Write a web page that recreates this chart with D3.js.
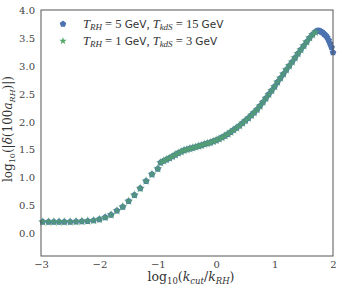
<!DOCTYPE html>
<html>
<head>
<meta charset="utf-8">
<script src="https://cdn.jsdelivr.net/npm/d3@7"></script>
<style>
  html, body { margin: 0; padding: 0; background: #fff; }
  svg { display: block; }
  .tick text { font-family: "DejaVu Serif", "Liberation Serif", serif; font-size: 10px; fill: #444; }
</style>
</head>
<body>
<div id="chart"></div>
<script>
// Sparse points (both runs overlap here)
var sparseK = [-2.97, -2.87, -2.78, -2.69, -2.6, -2.5, -2.4, -2.3, -2.2, -2.1, -2.0,
               -1.9, -1.8, -1.7, -1.6, -1.5, -1.4, -1.3, -1.2, -1.1, -1.0];
var sparseDelta = [0.21, 0.21, 0.21, 0.21, 0.21, 0.212, 0.215, 0.22, 0.225, 0.235, 0.255,
                   0.29, 0.335, 0.41, 0.48, 0.58, 0.69, 0.81, 0.94, 1.06, 1.16];

// Dense points
var denseK = [-0.95, -0.9, -0.85, -0.8, -0.75, -0.7, -0.65, -0.6, -0.55, -0.5,
              -0.45, -0.4, -0.35, -0.3, -0.25, -0.2, -0.15, -0.1, -0.05, 0.0,
              0.05, 0.1, 0.15, 0.2, 0.25, 0.3, 0.35, 0.4, 0.45, 0.5,
              0.55, 0.6, 0.65, 0.7, 0.75, 0.8, 0.85, 0.9, 0.95, 1.0,
              1.05, 1.1, 1.15, 1.2, 1.25, 1.3, 1.35, 1.4, 1.45, 1.5,
              1.55, 1.6, 1.65, 1.7, 1.75, 1.8, 1.85, 1.9, 1.95, 2.0];
var deltaBlue = [1.27, 1.3, 1.325, 1.35, 1.38, 1.41, 1.44, 1.465, 1.49, 1.505,
                 1.52, 1.535, 1.55, 1.565, 1.58, 1.6, 1.615, 1.63, 1.65, 1.67,
                 1.695, 1.72, 1.75, 1.78, 1.815, 1.855, 1.89, 1.93, 1.975, 2.02,
                 2.065, 2.115, 2.165, 2.22, 2.28, 2.35, 2.42, 2.49, 2.56, 2.63,
                 2.71, 2.78, 2.855, 2.93, 3.0, 3.07, 3.145, 3.22, 3.29, 3.36,
                 3.43, 3.5, 3.56, 3.61, 3.63, 3.61, 3.57, 3.51, 3.4, 3.24];
// extra blue points on the falling tail
var tailK = [1.725, 1.775, 1.825, 1.875, 1.925, 1.975];
var tailBlue = [3.625, 3.625, 3.595, 3.545, 3.46, 3.33];

var deltaGreen = [1.27, 1.3, 1.325, 1.35, 1.38, 1.41, 1.44, 1.465, 1.49, 1.505,
                  1.52, 1.535, 1.55, 1.565, 1.58, 1.6, 1.615, 1.63, 1.65, 1.67,
                  1.695, 1.72, 1.75, 1.78, 1.815, 1.855, 1.89, 1.93, 1.975, 2.02,
                  2.065, 2.115, 2.165, 2.22, 2.28, 2.35, 2.42, 2.49, 2.56, 2.63,
                  2.71, 2.78, 2.855, 2.93, 3.0, 3.07, 3.145, 3.22, 3.29, 3.36,
                  3.43, 3.5, 3.56, 3.6];

var xTicks = [-3, -2, -1, 0, 1, 2];
var yTicks = [0.0, 0.5, 1.0, 1.5, 2.0, 2.5, 3.0, 3.5, 4.0];

var width = 339, height = 285;
var mLeft = 41, mRight = 333, mTop = 10, mBottom = 256;
var blue = '#4c72b0', green = '#55a868';

var x = d3.scaleLinear().domain([-3, 2]).range([mLeft, mRight]);
var y = d3.scaleLinear().domain([-0.4, 4.0]).range([mBottom, mTop]);

var svg = d3.select('#chart').append('svg')
  .attr('width', width)
  .attr('height', height);

// Pentagon symbol type
var pentagon = {
  draw: function (context, size) {
    var r = Math.sqrt(size / 2.378);
    for (var i = 0; i < 5; i++) {
      var a = -Math.PI / 2 + i * 2 * Math.PI / 5;
      if (i === 0) context.moveTo(r * Math.cos(a), r * Math.sin(a));
      else context.lineTo(r * Math.cos(a), r * Math.sin(a));
    }
    context.closePath();
  }
};

// Axes
svg.append('g')
  .attr('transform', 'translate(0,' + mBottom + ')')
  .call(d3.axisBottom(x).tickValues(xTicks).tickSize(0).tickPadding(5).tickFormat(d3.format('d')))
  .call(function (g) { g.select('.domain').remove(); });

svg.append('g')
  .attr('transform', 'translate(' + mLeft + ',0)')
  .call(d3.axisLeft(y).tickValues(yTicks).tickSize(0).tickPadding(6).tickFormat(d3.format('.1f')))
  .call(function (g) { g.select('.domain').remove(); });

// Points
var blueData = sparseK.map(function (k, i) { return [k, sparseDelta[i]]; })
  .concat(denseK.map(function (k, i) { return [k, deltaBlue[i]]; }))
  .concat(tailK.map(function (k, i) { return [k, tailBlue[i]]; }));
var greenData = sparseK.map(function (k, i) { return [k, sparseDelta[i]]; })
  .concat(deltaGreen.map(function (v, i) { return [denseK[i], v]; }));

var plot = svg.append('g');
plot.selectAll('.blue')
  .data(blueData)
  .enter()
  .append('path')
  .attr('class', 'blue')
  .attr('d', d3.symbol(pentagon, 30))
  .attr('transform', function (d) { return 'translate(' + x(d[0]) + ',' + y(d[1]) + ')'; })
  .attr('fill', blue);

plot.selectAll('.green')
  .data(greenData)
  .enter()
  .append('path')
  .attr('class', 'green')
  .attr('d', d3.symbol(d3.symbolStar, 28))
  .attr('transform', function (d) { return 'translate(' + x(d[0]) + ',' + y(d[1]) + ')'; })
  .attr('fill', green)
  .attr('fill-opacity', 0.65);

// Frame
svg.append('rect')
  .attr('x', mLeft)
  .attr('y', mTop)
  .attr('width', mRight - mLeft)
  .attr('height', mBottom - mTop)
  .attr('fill', 'none')
  .attr('stroke', '#555')
  .attr('stroke-width', 1);

// Legend
var serif = '"Liberation Serif", "DejaVu Serif", serif';
var sans = '"DejaVu Sans", sans-serif';
var legendRows = [
  { marker: pentagon, size: 28, color: blue, t1: '5', t2: '15' },
  { marker: d3.symbolStar, size: 18, color: green, t1: '1', t2: '3' }
];
legendRows.forEach(function (row, i) {
  var ly = 24 + i * 17;
  svg.append('path')
    .attr('d', d3.symbol(row.marker, row.size))
    .attr('transform', 'translate(63,' + ly + ')')
    .attr('fill', row.color);
  var t = svg.append('text')
    .attr('x', 83)
    .attr('y', ly + 4)
    .attr('font-size', 12.5)
    .attr('fill', '#333')
    .attr('font-family', serif);
  t.append('tspan').attr('font-style', 'italic').text('T');
  t.append('tspan').attr('font-style', 'italic').attr('font-size', 9).attr('dy', 2).text('RH');
  t.append('tspan').attr('dy', -2).text(' = ' + row.t1 + ' ');
  t.append('tspan').attr('font-family', sans).attr('font-size', 10.5).text('GeV');
  t.append('tspan').text(', ');
  t.append('tspan').attr('font-style', 'italic').text('T');
  t.append('tspan').attr('font-style', 'italic').attr('font-size', 9).attr('dy', 2).text('kdS');
  t.append('tspan').attr('dy', -2).text(' = ' + row.t2 + ' ');
  t.append('tspan').attr('font-family', sans).attr('font-size', 10.5).text('GeV');
});

// Axis labels
var labelFont = '"DejaVu Serif", "Liberation Serif", serif';
var xl = svg.append('text')
  .attr('x', 191)
  .attr('y', 281)
  .attr('text-anchor', 'middle')
  .attr('font-family', labelFont)
  .attr('font-size', 12.5)
  .attr('fill', '#333');
xl.append('tspan').text('log');
xl.append('tspan').attr('font-size', 8.5).attr('dy', 2.5).text('10');
xl.append('tspan').attr('dy', -2.5).text('(');
xl.append('tspan').attr('font-style', 'italic').text('k');
xl.append('tspan').attr('font-style', 'italic').attr('font-size', 8.5).attr('dy', 2.5).text('cut');
xl.append('tspan').attr('dy', -2.5).text('/');
xl.append('tspan').attr('font-style', 'italic').text('k');
xl.append('tspan').attr('font-style', 'italic').attr('font-size', 8.5).attr('dy', 2.5).text('RH');
xl.append('tspan').attr('dy', -2.5).text(')');

var yl = svg.append('text')
  .attr('transform', 'translate(12,129) rotate(-90)')
  .attr('text-anchor', 'middle')
  .attr('font-family', labelFont)
  .attr('font-size', 12)
  .attr('fill', '#333');
yl.append('tspan').text('log');
yl.append('tspan').attr('font-size', 8).attr('dy', 2.5).text('10');
yl.append('tspan').attr('dy', -2.5).text('(|');
yl.append('tspan').attr('font-style', 'italic').text('δ');
yl.append('tspan').text('(100');
yl.append('tspan').attr('font-style', 'italic').text('a');
yl.append('tspan').attr('font-style', 'italic').attr('font-size', 8).attr('dy', 2.5).text('RH');
yl.append('tspan').attr('dy', -2.5).text(')|)');
</script>
</body>
</html>
